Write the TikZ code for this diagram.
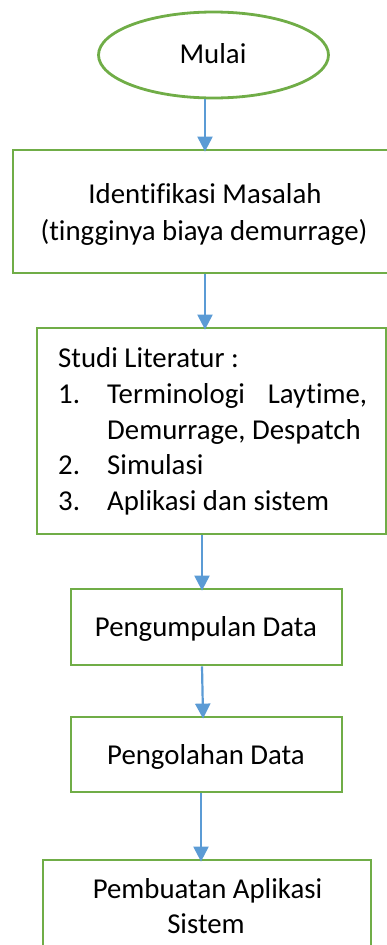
\documentclass[tikz,border=0pt]{standalone}
\usepackage{fontspec}
\setmainfont{Carlito}[Ligatures={NoCommon}]
\usetikzlibrary{arrows.meta,shapes.geometric}
\definecolor{grn}{HTML}{70AD47}
\definecolor{blu}{HTML}{5B9BD5}
\begin{document}
\begin{tikzpicture}[x=1pt,y=-1pt,
  font=\fontsize{28.8}{36}\selectfont,
  box/.style={draw=grn, line width=2.8pt, rectangle, inner sep=0pt},
  arr/.style={draw=blu, line width=2.2pt, shorten >=-3pt, -{Triangle[width=15pt,length=15pt]}},
  txt/.style={anchor=base, inner sep=0pt},
  ltxt/.style={anchor=base west, inner sep=0pt}]
\useasboundingbox (0,0) rectangle (387,945);
\clip (0,0) rectangle (387,945);
% start
\node[box, ellipse, minimum width=230pt, minimum height=86pt] (ell) at (213.5,55) {};
\node[txt] (tm) at (213,63) {Mulai};
% box 1
\node[box, minimum width=384pt, minimum height=123pt] (b1) at (205,211.5) {};
\node[txt] (t1a) at (205,203) {Identifikasi Masalah};
\node[txt] (t1b) at (204,240) {(tingginya biaya demurrage)};
% box 2
\node[box, minimum width=349pt, minimum height=206pt] (b2) at (211.5,431) {};
\node[ltxt] (t2a) at (58,367) {Studi Literatur :};
\node[ltxt] (t2n1) at (58,403) {1.};
\node[ltxt] (t2b) at (107,403) {\makebox[260pt][s]{Terminologi Laytime,}};
\node[ltxt] (t2c) at (107,439) {Demurrage, Despatch};
\node[ltxt] (t2n2) at (58,474) {2.};
\node[ltxt] (t2d) at (107,474) {Simulasi};
\node[ltxt] (t2n3) at (58,510) {3.};
\node[ltxt] (t2e) at (107,510) {Aplikasi dan sistem};
% box 3
\node[box, minimum width=271pt, minimum height=76pt] (b3) at (206.5,627) {};
\node[txt] (t3) at (206,636) {Pengumpulan Data};
% box 4
\node[box, minimum width=271pt, minimum height=75pt] (b4) at (206.5,754.5) {};
\node[txt] (t4) at (206,764) {Pengolahan Data};
% box 5
\node[box, minimum width=328pt, minimum height=110pt] (b5) at (207,915) {};
\node[txt] (t5a) at (207.5,898) {Pembuatan Aplikasi};
\node[txt] (t5b) at (206,933) {Sistem};
% arrows
\draw[arr] (ell.south -| b1.north) -- (b1.north);
\draw[arr] (b1.south) -- (b1.south |- b2.north);
\draw[arr] ([xshift=-9.5pt]b2.south) -- ([xshift=-4.5pt]b3.north);
\draw[arr] ([xshift=-4.5pt]b3.south) -- ([xshift=-3.5pt]b4.north);
\draw[arr] ([xshift=-5.5pt]b4.south) -- ([xshift=-6pt]b5.north);
\end{tikzpicture}
\end{document}
